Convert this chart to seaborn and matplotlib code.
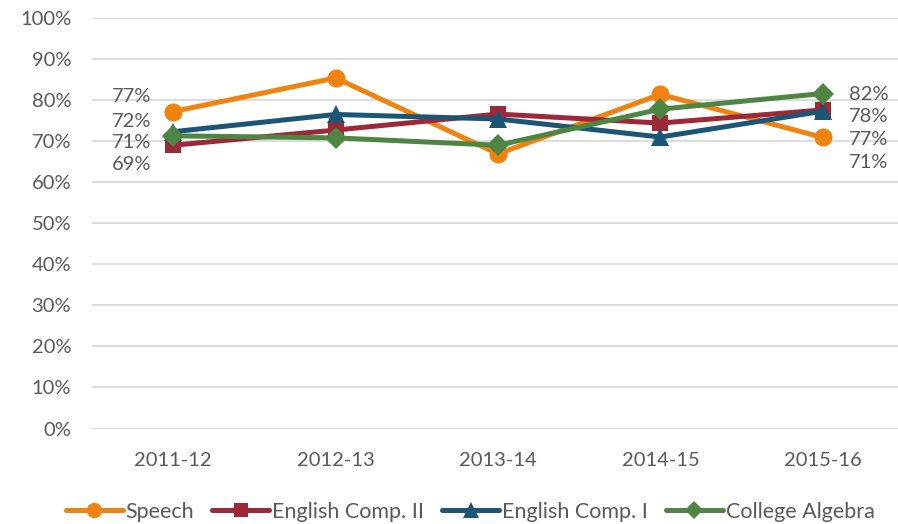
import matplotlib
matplotlib.use("Agg")
import matplotlib.pyplot as plt
import seaborn as sns
import pandas as pd
from matplotlib.ticker import PercentFormatter, MultipleLocator

years = ["2011-12", "2012-13", "2013-14", "2014-15", "2015-16"]
speech = [77.2, 85.4, 66.9, 81.4, 70.9]
comp2 = [69.0, 72.7, 76.6, 74.4, 77.6]
comp1 = [72.3, 76.5, 75.4, 71.0, 77.3]
algebra = [71.3, 70.8, 69.0, 77.8, 81.6]
series_names = ["Speech", "English Comp. II", "English Comp. I", "College Algebra"]
series_vals = [speech, comp2, comp1, algebra]

colors = ["#F0820F", "#9E2837", "#1B5677", "#4E8542"]
markers = ["o", "s", "^", "D"]
msizes = [13, 12, 13, 11]

rows = []
for name, vals in zip(series_names, series_vals):
    for i, (yr, v) in enumerate(zip(years, vals)):
        rows.append({"year": yr, "x": i, "value": v, "series": name})
df = pd.DataFrame(rows)

sns.set_theme(style="white")
plt.rcParams["font.family"] = ["Lato", "DejaVu Sans"]
TXT = "#595959"
FS = 14.5

fig = plt.figure(figsize=(8.98, 5.24), dpi=100)
ax = fig.add_axes([92 / 898, 1 - 428.5 / 524, (904 - 92) / 898, (428.5 - 18) / 524])

for name, c, m, ms in zip(series_names, colors, markers, msizes):
    sub = df[df["series"] == name]
    sns.lineplot(data=sub, x="x", y="value", ax=ax, color=c, marker=m,
                 markersize=ms, markeredgewidth=0, linewidth=3.6, label=name,
                 zorder=3)

ax.set_xlim(-0.5, 4.5)
ax.set_ylim(0, 100)
ax.yaxis.set_major_locator(MultipleLocator(10))
ax.yaxis.set_major_formatter(PercentFormatter(decimals=0))
ax.set_xticks(range(len(years)))
ax.set_xticklabels(years)
ax.grid(axis="y", color="#D9D9D9", linewidth=1.3, zorder=0)
ax.grid(axis="x", visible=False)
for s in ax.spines.values():
    s.set_visible(False)
ax.set_xlabel("")
ax.set_ylabel("")
ax.tick_params(axis="both", length=0, labelsize=FS, labelcolor=TXT)
ax.tick_params(axis="y", pad=15)
ax.tick_params(axis="x", pad=17)

# data labels on first and last points, stacked to avoid overlap
left_label_y = [80.8, 74.7, 69.6, 64.4]
right_label_y = [81.3, 75.9, 70.3, 64.9]
first = sorted([v[0] for v in series_vals], reverse=True)
last = sorted([v[-1] for v in series_vals], reverse=True)
for v, ly in zip(first, left_label_y):
    ax.annotate(f"{round(v):d}%", xy=(0, ly), xytext=(-16, 0), textcoords="offset points",
                ha="right", va="center", fontsize=FS, color=TXT)
for v, ly in zip(last, right_label_y):
    ax.annotate(f"{round(v):d}%", xy=(4, ly), xytext=(19, 0), textcoords="offset points",
                ha="left", va="center", fontsize=FS, color=TXT)

if ax.legend_:
    ax.legend_.remove()
handles, labels = ax.get_legend_handles_labels()
fig.legend(handles, labels, loc="center", bbox_to_anchor=(470 / 898, 1 - 512 / 524),
           ncol=4, frameon=False, fontsize=15.5, labelcolor=TXT,
           handlelength=2.65, handletextpad=0.12, columnspacing=0.85, markerscale=0.85,
           borderpad=0.2)

fig.savefig("out.png", dpi=100)
